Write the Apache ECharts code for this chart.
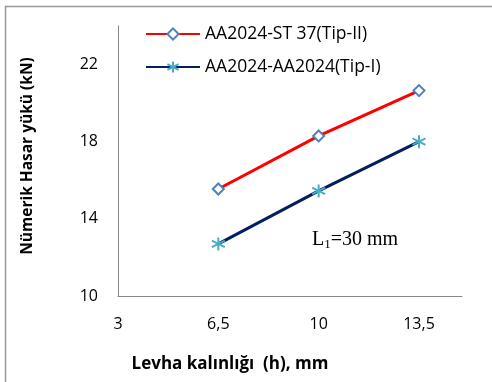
<!DOCTYPE html>
<html>
<head>
<meta charset="utf-8">
<script src="https://cdn.jsdelivr.net/npm/echarts@6/dist/echarts.min.js"></script>
<style>
  html, body { margin: 0; padding: 0; background: #fff; }
  #chart { width: 492px; height: 382px; }
</style>
</head>
<body>
<div id="chart"></div>
<script>
// veriler
var thickness = [6.5, 10, 13.5];
var tip2Values = [15.55, 18.3, 20.65];   // AA2024-ST 37(Tip-II)
var tip1Values = [12.7, 15.45, 18.0];    // AA2024-AA2024(Tip-I)
var seriesNames = ['AA2024-ST 37(Tip-II)', 'AA2024-AA2024(Tip-I)'];

function pairs(xs, ys) {
    var out = [];
    for (var i = 0; i < xs.length; i++) out.push([xs[i], ys[i]]);
    return out;
}

// yıldız (asterisk) işaretçisi
var starPath = 'path://M0,-10 L0,10 M-8.66,-5 L8.66,5 M-8.66,5 L8.66,-5';

var myChart = echarts.init(document.getElementById('chart'));

var option = {
    animation: false,
    backgroundColor: '#fff',
    textStyle: { fontFamily: 'Open Sans' },
    grid: { left: 118, right: 30, top: 26, bottom: 86 },
    legend: {
        orient: 'vertical',
        left: 145,
        top: 25,
        padding: 0,
        itemWidth: 54,
        itemHeight: 14,
        itemGap: 15,
        textStyle: { fontFamily: 'Open Sans', fontSize: 17.5, color: '#000' },
        data: seriesNames
    },
    xAxis: {
        type: 'value',
        min: 3,
        max: 15,
        interval: 3.5,
        splitLine: { show: false },
        axisTick: { show: false },
        axisLine: { lineStyle: { color: '#868686', width: 1 } },
        axisLabel: {
            showMaxLabel: false,
            margin: 20,
            fontSize: 16,
            color: '#000',
            formatter: function (v) { return String(v).replace('.', ','); }
        },
        name: 'Levha kalınlığı  (h), mm',
        nameLocation: 'middle',
        nameGap: 60,
        nameTextStyle: { fontSize: 17, fontWeight: 'bold', color: '#000', padding: [0, 120, 0, 0] }
    },
    yAxis: {
        type: 'value',
        min: 10,
        max: 24,
        interval: 4,
        splitLine: { show: false },
        axisTick: { show: false },
        axisLine: { show: true, lineStyle: { color: '#868686', width: 1 } },
        axisLabel: { showMaxLabel: false, margin: 20, fontSize: 16, color: '#000' },
        name: 'Nümerik Hasar yükü (kN)',
        nameLocation: 'middle',
        nameGap: 82,
        nameTextStyle: { fontSize: 15.5, fontWeight: 'bold', color: '#000', padding: [0, 0, 0, 10] }
    },
    graphic: [
        { type: 'line', shape: { x1: 5, y1: 6.5, x2: 492, y2: 6.5 }, style: { stroke: '#999', lineWidth: 1.5 } },
        { type: 'line', shape: { x1: 5.5, y1: 6, x2: 5.5, y2: 382 }, style: { stroke: '#999', lineWidth: 1.5 } },
        {
            type: 'text', left: 312, top: 230,
            style: {
                text: 'L{s|1}=30 mm',
                font: '20px "Liberation Serif"',
                fill: '#000',
                rich: { s: { fontSize: 13, fontFamily: 'Liberation Serif', padding: [9, 0, 0, 0] } }
            }
        }
    ],
    series: [
        {
            name: seriesNames[0],
            type: 'line',
            data: pairs(thickness, tip2Values),
            symbol: 'emptyDiamond',
            symbolSize: 11,
            lineStyle: { color: '#ff0000', width: 3 },
            itemStyle: { color: '#4f81bd', borderColor: '#4f81bd', borderWidth: 1.5 }
        },
        {
            name: seriesNames[1],
            type: 'line',
            data: pairs(thickness, tip1Values),
            symbol: starPath,
            symbolSize: 13,
            lineStyle: { color: '#002060', width: 3 },
            itemStyle: { color: '#4bacc6', borderColor: '#4bacc6', borderWidth: 2 }
        }
    ]
};

myChart.setOption(option);
</script>
</body>
</html>
